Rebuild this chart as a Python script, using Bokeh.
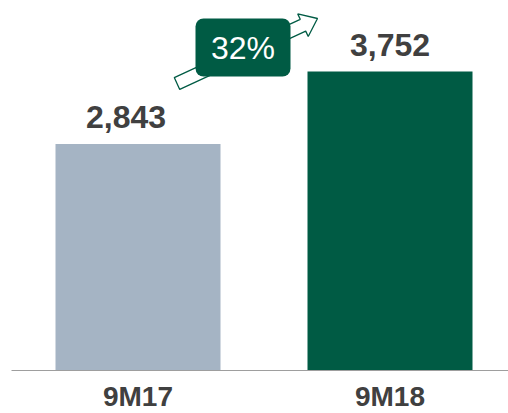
import math
from bokeh.plotting import figure
from bokeh.models import ColumnDataSource, FixedTicker, BoxAnnotation, Label, Range1d
from bokeh.core.properties import value
from bokeh.embed import file_html
from bokeh.resources import INLINE

# ---- data ----
categories = ["9M17", "9M18"]
values = [2843, 3752]
value_labels = ["2,843", "3,752"]
bar_colors = ["#A5B4C4", "#005B44"]
growth_label = "32%"

GREEN = "#005B44"
TEXT = "#404040"
FONT = "Liberation Sans, Arial, sans-serif"

FRAME_LEFT = 11
FRAME_W = 497
FRAME_H = 370
PX_PER_X = 252.0
PX_PER_Y = 299.0 / max(values)
x_start = -(137.5 - FRAME_LEFT) / PX_PER_X
x_end = x_start + FRAME_W / PX_PER_X
y_end = FRAME_H / PX_PER_Y

def dx(px):  # canvas px -> data x
    return x_start + (px - FRAME_LEFT) / PX_PER_X

def dy(py):  # canvas px -> data y
    return (FRAME_H - py) / PX_PER_Y

xs_idx = list(range(len(categories)))
src = ColumnDataSource(dict(x=xs_idx, top=values, color=bar_colors,
                            label=value_labels, off=[-12, 0]))

p = figure(frame_width=FRAME_W, frame_height=FRAME_H, output_backend="svg",
           toolbar_location=None,
           x_range=Range1d(x_start, x_end), y_range=Range1d(0, y_end),
           y_axis_type=None, min_border_left=FRAME_LEFT, min_border_right=0,
           min_border_top=0, min_border_bottom=43)
p.outline_line_color = None
p.grid.visible = False
p.background_fill_color = "white"
p.border_fill_color = "white"

p.vbar(x="x", top="top", width=165 / PX_PER_X, fill_color="color",
       line_color=None, source=src)

p.text(x="x", y="top", text="label", x_offset="off", y_offset=-27,
       text_align="center", text_baseline="alphabetic",
       text_font=value(FONT), text_font_style="bold", text_font_size="32px",
       text_color=TEXT, source=src)

# growth arrow (outlined block arrow)
tail = (176.5, 83.0)
tip = (317.0, 18.0)
ang = math.atan2(tip[1] - tail[1], tip[0] - tail[0])
L = math.hypot(tip[0] - tail[0], tip[1] - tail[1])
sw, hw, hl = 6.5, 12.5, 16.0
local = [(0, -sw), (L - hl, -sw), (L - hl, -hw), (L, 0), (L - hl, hw), (L - hl, sw), (0, sw)]
ax, ay = [], []
for u, v in local:
    px = tail[0] + u * math.cos(ang) - v * math.sin(ang)
    py = tail[1] + u * math.sin(ang) + v * math.cos(ang)
    ax.append(dx(px))
    ay.append(dy(py))
p.patch(ax, ay, fill_color="white", line_color=GREEN, line_width=1.3)

badge = BoxAnnotation(left=dx(195), right=dx(290), bottom=dy(76), top=dy(18),
                      fill_color=GREEN, fill_alpha=1, line_color=None,
                      border_radius=8)
p.add_layout(badge)
p.add_layout(Label(x=dx(242.5), y=dy(47), text=growth_label, text_align="center",
                   text_baseline="middle", text_font=FONT,
                   text_font_size="32px", text_color="white"))

ax_ = p.xaxis[0]
ax_.ticker = FixedTicker(ticks=xs_idx)
ax_.major_label_overrides = {i: c for i, c in zip(xs_idx, categories)}
ax_.axis_line_color = "#9E9E9E"
ax_.axis_line_width = 1
ax_.major_tick_line_color = None
ax_.minor_tick_line_color = None
ax_.major_tick_out = 0
ax_.major_tick_in = 0
ax_.major_label_standoff = 10
ax_.major_label_text_font = FONT
ax_.major_label_text_font_style = "bold"
ax_.major_label_text_font_size = "28px"
ax_.major_label_text_color = TEXT

open("out.html", "w").write(file_html(p, INLINE))
